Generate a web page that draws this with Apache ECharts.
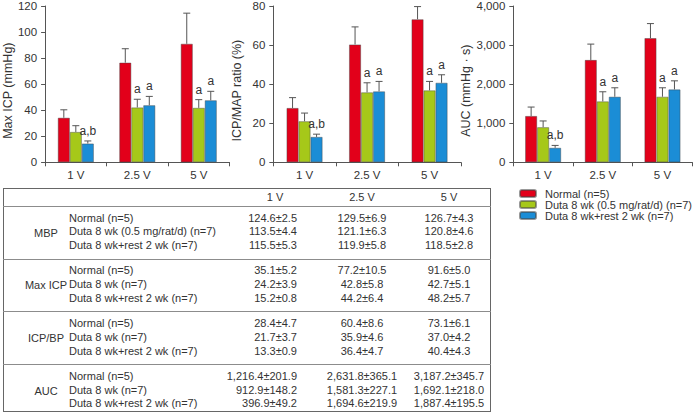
<!DOCTYPE html>
<html>
<head>
<meta charset="utf-8">
<script src="https://cdn.jsdelivr.net/npm/echarts@6/dist/echarts.min.js"></script>
<style>
  html, body { margin: 0; padding: 0; background: #fff; }
  #wrap { position: relative; width: 694px; height: 413px; overflow: hidden; font-family: 'Liberation Sans', Arial, sans-serif; color: #333; }
  #chart { position: absolute; left: 0; top: 0; width: 694px; height: 413px; }
  #tbl { position: absolute; left: 0; top: 0; width: 694px; height: 413px; pointer-events: none; font-size: 11px; }
  #tbl div { position: absolute; white-space: nowrap; line-height: 13px; }
</style>
</head>
<body>
<div id="wrap">
  <div id="chart"></div>
  <div id="tbl"></div>
</div>
<script>
const categories = ['1 V', '2.5 V', '5 V']
const seriesNames = ['Normal (n=5)', 'Duta 8 wk (0.5 mg/rat/d) (n=7)', 'Duta 8 wk+rest 2 wk (n=7)']
const seriesColors = ['#e2001a', '#a6c819', '#1b8dd6']

// Max ICP (mmHg), bar heights and error bar lengths
const icpNormal = [34.2, 76.5, 91.0]
const icpDuta = [23.3, 42.1, 41.8]
const icpRest = [14.4, 43.8, 47.6]
const icpNormalErr = [6.1, 10.7, 23.5]
const icpDutaErr = [4.8, 6.3, 6.3]
const icpRestErr = [2.0, 6.8, 6.9]

// ICP/MAP ratio (%)
const ratioNormal = [27.8, 60.3, 73.2]
const ratioDuta = [21.0, 35.8, 36.8]
const ratioRest = [13.0, 36.3, 40.7]
const ratioNormalErr = [5.3, 9.0, 6.5]
const ratioDutaErr = [4.2, 4.9, 4.6]
const ratioRestErr = [1.4, 5.1, 4.1]

// AUC (mmHg · s)
const aucNormal = [1185, 2619, 3178]
const aucDuta = [898, 1559, 1678]
const aucRest = [371, 1678, 1864]
const aucNormalErr = [229, 406, 372]
const aucDutaErr = [160, 246, 229]
const aucRestErr = [61, 229, 221]

// significance marks above each bar
const sigNormal = ['', '', '']
const sigDuta = ['', 'a', 'a']
const sigRest = ['a,b', 'a', 'a']

// table below the plots
const tableColumns = ['1 V', '2.5 V', '5 V']
const tableGroups = ['MBP', 'Max ICP', 'ICP/BP', 'AUC']
const mbpNames = ['Normal (n=5)', 'Duta 8 wk (0.5 mg/rat/d) (n=7)', 'Duta 8 wk+rest 2 wk (n=7)']
const shortNames = ['Normal (n=5)', 'Duta 8 wk (n=7)', 'Duta 8 wk+rest 2 wk (n=7)']
const mbpRows = [
  ['124.6±2.5', '129.5±6.9', '126.7±4.3'],
  ['113.5±4.4', '121.1±6.3', '120.8±4.6'],
  ['115.5±5.3', '119.9±5.8', '118.5±2.8']
]
const maxIcpRows = [
  ['35.1±5.2', '77.2±10.5', '91.6±5.0'],
  ['24.2±3.9', '42.8±5.8', '42.7±5.1'],
  ['15.2±0.8', '44.2±6.4', '48.2±5.7']
]
const icpBpRows = [
  ['28.4±4.7', '60.4±8.6', '73.1±6.1'],
  ['21.7±3.7', '35.9±4.6', '37.0±4.2'],
  ['13.3±0.9', '36.4±4.7', '40.4±4.3']
]
const aucRows = [
  ['1,216.4±201.9', '2,631.8±365.1', '3,187.2±345.7'],
  ['912.9±148.2', '1,581.3±227.1', '1,692.1±218.0'],
  ['396.9±49.2', '1,694.6±219.9', '1,887.4±195.5']
]

const BAR_W = 12
const panels = [
  { title: 'Max ICP (mmHg)', max: 120, step: 20, left: 42.3, width: 187.2, nameGap: 26,
    means: [icpNormal, icpDuta, icpRest], errs: [icpNormalErr, icpDutaErr, icpRestErr] },
  { title: 'ICP/MAP ratio (%)', max: 80, step: 20, left: 273.3, width: 187.5, nameGap: 30,
    means: [ratioNormal, ratioDuta, ratioRest], errs: [ratioNormalErr, ratioDutaErr, ratioRestErr] },
  { title: 'AUC (mmHg \u00b7 s)', max: 4000, step: 1000, left: 513.3, width: 179, nameGap: 39,
    means: [aucNormal, aucDuta, aucRest], errs: [aucNormalErr, aucDutaErr, aucRestErr] }
]
const sigs = [sigNormal, sigDuta, sigRest]

const axisColor = '#555'
const textColor = '#333'
const grid = []
const xAxis = []
const yAxis = []
const series = []

panels.forEach((p, i) => {
  grid.push({ left: p.left, width: p.width, top: 5, height: 157.3 })
  xAxis.push({
    type: 'category', gridIndex: i, data: categories,
    axisLine: { lineStyle: { color: axisColor, width: 1 } },
    axisTick: { show: true, length: 4, lineStyle: { color: axisColor } },
    axisLabel: { color: textColor, fontSize: 11.5, margin: 7, fontFamily: 'Liberation Sans' }
  })
  yAxis.push({
    type: 'value', gridIndex: i, min: 0, max: p.max, interval: p.step,
    name: p.title, nameLocation: 'middle', nameGap: p.nameGap,
    nameTextStyle: { color: textColor, fontSize: 12.5, fontFamily: 'Liberation Sans', padding: [0, 13, 0, 0] },
    axisLine: { show: true, lineStyle: { color: axisColor, width: 1 } },
    axisTick: { show: true, length: 4, lineStyle: { color: axisColor } },
    splitLine: { show: false },
    axisLabel: { color: textColor, fontSize: 11.5, margin: 8, fontFamily: 'Liberation Sans',
      formatter: v => v.toLocaleString('en-US') }
  })
  p.means.forEach((vals, k) => {
    series.push({
      type: 'bar', name: seriesNames[k], xAxisIndex: i, yAxisIndex: i,
      data: vals, barWidth: BAR_W, barGap: '0%',
      itemStyle: { color: seriesColors[k], borderColor: 'rgba(70,70,70,0.55)', borderWidth: 0.8 }
    })
  })
  // error bars + significance letters
  const errData = []
  const errText = []
  categories.forEach((c, ci) => {
    for (let k = 0; k < 3; k++) {
      errData.push([ci, k, p.means[k][ci], p.errs[k][ci]])
      errText.push(sigs[k][ci])
    }
  })
  series.push({
    type: 'custom', xAxisIndex: i, yAxisIndex: i, data: errData, z: 5, silent: true,
    encode: { x: 0, y: 2 },
    renderItem: (params, api) => {
      const ci = api.value(0), k = api.value(1), v = api.value(2), e = api.value(3)
      const b = api.coord([ci, v])
      const t = api.coord([ci, v + e])
      const x = b[0] + (k - 1) * BAR_W
      const st = { stroke: '#555', lineWidth: 1 }
      const children = [
        { type: 'line', shape: { x1: x, y1: b[1], x2: x, y2: t[1] }, style: st },
        { type: 'line', shape: { x1: x - 3.5, y1: t[1], x2: x + 3.5, y2: t[1] }, style: st }
      ]
      const lab = errText[params.dataIndex]
      if (lab) {
        children.push({ type: 'text', x: x, y: t[1] - 4,
          style: { text: lab, fill: textColor, fontSize: 12, fontFamily: 'Liberation Sans', align: 'center', verticalAlign: 'bottom' } })
      }
      return { type: 'group', children }
    }
  })
})

const chart = echarts.init(document.getElementById('chart'), null, { renderer: 'svg' })
chart.setOption({
  animation: false,
  backgroundColor: '#fff',
  grid, xAxis, yAxis, series,
  legend: {
    data: seriesNames, orient: 'vertical', left: 519, top: 188,
    itemWidth: 16, itemHeight: 7, itemGap: 0, padding: 0,
    textStyle: { color: textColor, fontSize: 11, lineHeight: 10.5, fontFamily: 'Liberation Sans', padding: [0, 0, 0, 4] }
  }
})

// table
const tbl = document.getElementById('tbl')
const add = (css, text) => {
  const d = document.createElement('div')
  Object.assign(d.style, css)
  if (text !== undefined) d.textContent = text
  tbl.appendChild(d)
  return d
}
const T_LEFT = 3, T_RIGHT = 490.7, T_TOP = 188.3, T_BOTTOM = 412, HEAD_H = 18.4, GROUP_H = 52.8, ROW_H = 13.7
add({ left: T_LEFT + 'px', top: T_TOP + 'px', width: (T_RIGHT - T_LEFT) + 'px', height: (T_BOTTOM - T_TOP) + 'px',
  border: '1px solid #666', boxSizing: 'border-box' })
const colCenters = [275, 362, 449]
tableColumns.forEach((c, j) => {
  add({ left: (colCenters[j] - 40) + 'px', width: '80px', textAlign: 'center', top: (T_TOP + 3) + 'px' }, c)
})
const groupNames = [mbpNames, shortNames, shortNames, shortNames]
const groupRows = [mbpRows, maxIcpRows, icpBpRows, aucRows]
tableGroups.forEach((g, gi) => {
  const gTop = T_TOP + HEAD_H + gi * GROUP_H
  add({ left: T_LEFT + 'px', width: (T_RIGHT - T_LEFT) + 'px', top: (gTop - 1) + 'px', height: '0px',
    borderTop: '1.6px solid #8c8c8c' })
  add({ left: '6px', width: '80px', textAlign: 'center', top: (gTop + GROUP_H / 2 - 6.5) + 'px' }, g)
  groupNames[gi].forEach((n, r) => {
    const y = gTop + 11.4 + r * ROW_H - 6.5
    add({ left: '69px', top: y + 'px' }, n)
    groupRows[gi][r].forEach((v, j) => {
      if (j === 0) add({ left: '197px', width: '100px', textAlign: 'right', top: y + 'px' }, v)
      else add({ left: (colCenters[j] - 50) + 'px', width: '100px', textAlign: 'center', top: y + 'px' }, v)
    })
  })
})
</script>
</body>
</html>
